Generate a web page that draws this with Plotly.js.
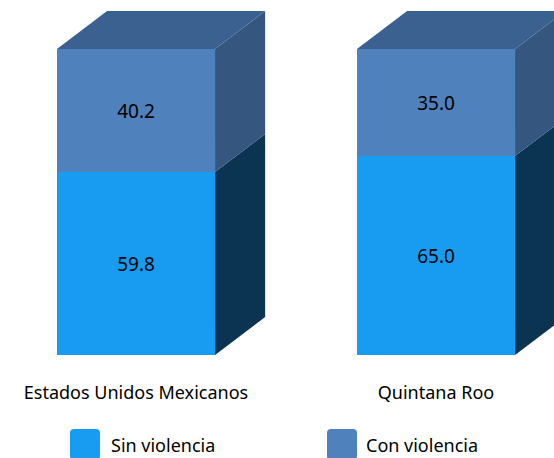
<!DOCTYPE html>
<html>
<head>
<meta charset="utf-8">
<script src="https://cdn.plot.ly/plotly-3.0.1.min.js"></script>
<style>html,body{margin:0;padding:0;background:#fff;}#chart{width:554px;height:458px;}</style>
</head>
<body>
<div id="chart"></div>
<script>
// ---- data ----
var categories = ["Estados Unidos Mexicanos", "Quintana Roo"];
var sinViolencia = [59.8, 65.0];
var conViolencia = [40.2, 35.0];
var seriesNames = ["Sin violencia", "Con violencia"];

// ---- style ----
var FONT = "Noto Sans, Open Sans, sans-serif";
var frontColors = ["#189CF2", "#4F81BD"];
var sideColors = ["#0B3352", "#34567F"];
var topColor = "#3B6190";
var BAR_W = 0.527;      // bar width in x units
var DX = 0.167;         // depth offset x (units)
var DY = 12.4;          // depth offset y (units)

var xs = categories.map(function (_, i) { return i; });

var traces = [];
var series = [sinViolencia, conViolencia];
series.forEach(function (vals, s) {
  traces.push({
    type: "bar", x: xs, y: vals, width: BAR_W, name: seriesNames[s],
    marker: { color: frontColors[s], line: { width: 0 }, cornerradius: s === 1 ? 5 : 0 },
    text: vals.map(function (v) { return v.toFixed(1); }),
    textposition: "inside", insidetextanchor: "middle",
    textfont: { family: FONT, size: 19, color: "#000" },
    hoverinfo: "skip", showlegend: false
  });
});

// 3D side and top faces derived from the same data
xs.forEach(function (x, i) {
  var xr = x + BAR_W / 2, xl = x - BAR_W / 2;
  var base = 0;
  series.forEach(function (vals, s) {
    var y0 = base, y1 = base + vals[i];
    traces.push({
      type: "scatter", mode: "lines", fill: "toself",
      x: [xr, xr + DX, xr + DX, xr, xr],
      y: [y0, y0 + DY, y1 + DY, y1, y0],
      line: { width: 0, color: sideColors[s] }, fillcolor: sideColors[s],
      hoverinfo: "skip", showlegend: false
    });
    base = y1;
  });
  traces.push({
    type: "scatter", mode: "lines", fill: "toself",
    x: [xl, xl + DX, xr + DX, xr, xl],
    y: [base, base + DY, base + DY, base, base],
    line: { width: 0, color: topColor }, fillcolor: topColor,
    hoverinfo: "skip", showlegend: false
  });
});

// custom legend (paper coordinates)
var PH = 355; // plot height px
function py(p) { return (PH - p) / PH; }
function pxp(p) { return p / 554; }
function roundRect(x0, y0, x1, y1, r) {
  var X0 = pxp(x0), X1 = pxp(x1), Y0 = py(y0), Y1 = py(y1);
  var rx = pxp(r), ry = r / PH;
  return "M" + (X0 + rx) + "," + Y0 + " L" + (X1 - rx) + "," + Y0 +
    " Q" + X1 + "," + Y0 + " " + X1 + "," + (Y0 - ry) +
    " L" + X1 + "," + (Y1 + ry) + " Q" + X1 + "," + Y1 + " " + (X1 - rx) + "," + Y1 +
    " L" + (X0 + rx) + "," + Y1 + " Q" + X0 + "," + Y1 + " " + X0 + "," + (Y1 + ry) +
    " L" + X0 + "," + (Y0 - ry) + " Q" + X0 + "," + Y0 + " " + (X0 + rx) + "," + Y0 + " Z";
}
var legendPos = [{ sx: 70, tx: 109 }, { sx: 327, tx: 364 }];
var shapes = [], annotations = [];
seriesNames.forEach(function (n, s) {
  shapes.push({ type: "path", xref: "paper", yref: "paper",
    path: roundRect(legendPos[s].sx, 429, legendPos[s].sx + 30, 460, 4),
    fillcolor: frontColors[s], line: { width: 0 } });
  annotations.push({ xref: "paper", yref: "paper", x: pxp(legendPos[s].tx), y: py(445),
    xanchor: "left", yanchor: "middle", showarrow: false, text: n,
    font: { family: FONT, size: 18, color: "#000" } });
});

var layout = {
  width: 554, height: 458,
  margin: { l: 0, r: 0, t: 0, b: 103, pad: 0 },
  paper_bgcolor: "#fff", plot_bgcolor: "#fff",
  barmode: "stack", showlegend: false,
  xaxis: { range: [-136 / 300, 418 / 300], tickvals: xs, ticktext: categories,
    showgrid: false, zeroline: false, showline: false, ticks: "",
    ticklabelstandoff: 25, tickfont: { family: FONT, size: 18, color: "#000" } },
  yaxis: { range: [0, 355 / 3.06], showgrid: false, zeroline: false, showline: false,
    showticklabels: false, ticks: "" },
  shapes: shapes, annotations: annotations
};
Plotly.newPlot("chart", traces, layout, { displayModeBar: false, staticPlot: true });
</script>
</body>
</html>
